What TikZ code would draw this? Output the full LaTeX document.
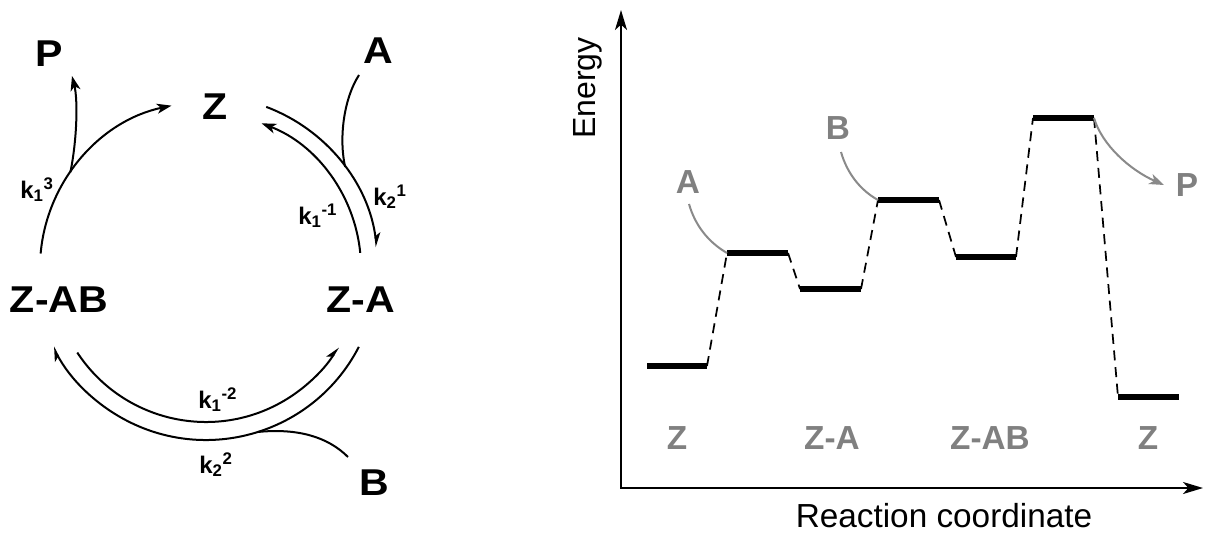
\documentclass[tikz,border=0pt]{standalone}
\usepackage{fontspec}
\setmainfont{Liberation Sans}
\usetikzlibrary{arrows.meta}
\definecolor{gtxt}{HTML}{808080}
\definecolor{gline}{HTML}{8A8A8A}
\newcommand\widen[1]{\scalebox{1.1}[1]{#1}}
\begin{document}
\begin{tikzpicture}[x=0.75pt,y=-0.75pt,
 big/.style={font=\fontsize{28}{30}\selectfont\bfseries, inner sep=0pt, anchor=base},
 klab/.style={font=\fontsize{18}{20}\selectfont\bfseries, inner sep=0pt, anchor=base west},
 glab/.style={font=\fontsize{25}{27}\selectfont\bfseries, text=gtxt, inner sep=0pt, anchor=base},
 axlab/.style={font=\fontsize{25}{27}\selectfont, inner sep=0pt, anchor=base},
 cyc/.style={line width=1.5pt},
 fullhead/.style={-{Stealth[length=11pt,width=7.5pt,inset=3pt]}},
 halfhead/.style={-{Stealth[harpoon,length=9pt,width=8pt,inset=2.5pt]}},
 level/.style={line width=4.5pt},
 trans/.style={line width=1.3pt, dash pattern=on 7.5pt off 5pt},
 gcurve/.style={line width=1.5pt, draw=gline},
 axis/.style={line width=1.5pt},
]
\useasboundingbox (0,0) rectangle (1224,543);

% ---------- catalytic cycle ----------
\node[big] (P) at (49,66) {\widen{P}};
\node[big] (Z) at (215,119) {\widen{Z}};
\node[big] (A) at (378,63) {\widen{A}};
\node[big] (ZAB) at (59,312) {\widen{Z-AB}};
\node[big] (ZA) at (361,312) {\widen{Z-A}};
\node[big] (B) at (374,495) {\widen{B}};

\node[klab] (k13) at (20,198) {k\textsubscript{1}\textsuperscript{3}};
\node[klab] (k21) at (373,205) {k\textsubscript{2}\textsuperscript{1}};
\node[klab] (k1m1) at (298,224) {k\textsubscript{1}\textsuperscript{-1}};
\node[klab] (k1m2) at (198,408) {k\textsubscript{1}\textsuperscript{-2}};
\node[klab] (k22) at (199,473) {k\textsubscript{2}\textsuperscript{2}};

\coordinate (C) at (206,268);
% Z-AB -> Z
\draw[cyc,fullhead] ([shift={(-175:166)}]C) arc[start angle=-175,end angle=-102,radius=166];
% Z -> Z-A
\draw[cyc,halfhead] ([shift={(-69.5:172)}]C) arc[start angle=-69.5,end angle=-7,radius=172];
% Z-A -> Z
\draw[cyc,fullhead] ([shift={(-5.6:155)}]C) arc[start angle=-5.6,end angle=-69,radius=155];
% Z-AB -> Z-A (inner)
\draw[cyc,halfhead] ([shift={(146.7:154)}]C) arc[start angle=146.7,end angle=30.9,radius=154];
% Z-A -> Z-AB (outer)
\draw[cyc,halfhead] ([shift={(27.3:172)}]C) arc[start angle=27.3,end angle=152.7,radius=172];

% branches
\coordinate (Ptip) at (72,76);
\draw[cyc,fullhead] ([shift={(-144.8:166)}]C) .. controls (77,140) and (78,100) .. (Ptip);
\coordinate (Astart) at (359,75);
\draw[cyc] (Astart) .. controls (343,100) and (339,140) .. ([shift={(-36:172)}]C);
\coordinate (Bstart) at (348,457);
\draw[cyc] (Bstart) .. controls (328,437) and (298,428) .. ([shift={(72.4:172)}]C);

% ---------- energy diagram ----------
\coordinate (O) at (621,488);
\coordinate (Ytip) at (621,10);
\coordinate (Xtip) at (1203,488);
\draw[axis,{Stealth[length=15pt,width=9pt,inset=4pt]}-{Stealth[length=15pt,width=9pt,inset=4pt]}] (Ytip) -- (O) -- (Xtip);

\node[axlab, rotate=90, font=\fontsize{24}{26}\selectfont] (E) at (595,88) {Energy};
\node[axlab] (RC) at (944,527) {Reaction coordinate};

\coordinate (l1a) at (647,366); \coordinate (l1b) at (707,366);
\coordinate (l2a) at (727,253); \coordinate (l2b) at (788,253);
\coordinate (l3a) at (800,289); \coordinate (l3b) at (861,289);
\coordinate (l4a) at (878,200); \coordinate (l4b) at (939,200);
\coordinate (l5a) at (956,257); \coordinate (l5b) at (1016,257);
\coordinate (l6a) at (1033,118); \coordinate (l6b) at (1094,118);
\coordinate (l7a) at (1118,397); \coordinate (l7b) at (1179,397);

\foreach \i in {1,...,7} { \draw[level] (l\i a) -- (l\i b); }
\draw[trans] (l1b) -- (l2a);
\draw[trans] (l2b) -- (l3a);
\draw[trans] (l3b) -- (l4a);
\draw[trans] (l4b) -- (l5a);
\draw[trans] (l5b) -- (l6a);
\draw[trans] (l6b) -- (l7a);

\node[glab] (gA) at (688,193) {A};
\node[glab] (gB) at (838,139) {B};
\node[glab] (gP) at (1187,196) {P};
\node[glab] (gZ1) at (677,449) {Z};
\node[glab] (gZA) at (832,449) {Z-A};
\node[glab] (gZAB) at (990,449) {Z-AB};
\node[glab] (gZ2) at (1148,449) {Z};

\coordinate (gAs) at (689,204);
\coordinate (gBs) at (841,152);
\coordinate (gPe) at (1164,185);
\draw[gcurve] (gAs) .. controls (695,225) and (708,242) .. (l2a);
\draw[gcurve] (gBs) .. controls (847,173) and (860,190) .. (l4a);
\draw[gcurve,-{Stealth[length=11pt,width=8pt,inset=3pt]}] (l6b) .. controls (1102,145) and (1130,170) .. (gPe);
\end{tikzpicture}
\end{document}
